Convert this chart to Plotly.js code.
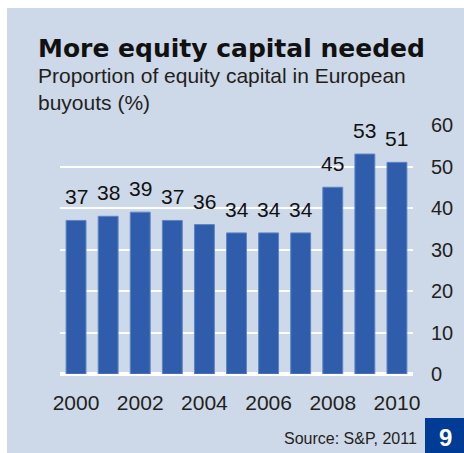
<!DOCTYPE html>
<html><head><meta charset="utf-8">
<script src="https://cdn.plot.ly/plotly-3.0.1.min.js"></script>
<style>html,body{margin:0;padding:0;background:#fff}#c{width:464px;height:453px}</style>
</head><body><div id="c"></div>
<script>
const years = [2000,2001,2002,2003,2004,2005,2006,2007,2008,2009,2010];
const equityShare = [37,38,39,37,36,34,34,34,45,53,51];
const xTickVals = [2000,2002,2004,2006,2008,2010];
const yTickVals = [0,10,20,30,40,50,60];

const L=60,R=51,T=125,B=79,W=464,H=453;
const pw=W-L-R, ph=H-T-B;
const px = v => (v-L)/pw;
const py = v => (H-B-v)/ph;

const trace = {
  type:'bar', x: years, y: equityShare,
  marker:{color:'#2f5dab', line:{color:'#5f84c4', width:1}},
  hoverinfo:'skip'
};
const valueLabels = years.map((yr,i)=>({
  x:yr, y:equityShare[i], xref:'x', yref:'y', text:String(equityShare[i]),
  xanchor:'center', yanchor:'bottom', yshift:10, showarrow:false,
  font:{family:'Liberation Sans, Arial, sans-serif', size:21, color:'#111'}
}));
const layout = {
  width:W, height:H, margin:{l:L,r:R,t:T,b:B},
  paper_bgcolor:'#cdd8e8', plot_bgcolor:'rgba(0,0,0,0)',
  showlegend:false, bargap:0.38,
  font:{family:'Liberation Sans, Arial, sans-serif', color:'#231f20'},
  xaxis:{range:[1999.5,2010.5], tickvals:xTickVals, ticktext:xTickVals.map(String),
    showgrid:false, zeroline:false, showline:false, ticks:'', tickfont:{size:21}, ticklabelstandoff:14, fixedrange:true},
  yaxis:{side:'right', range:[0,60], tickvals:yTickVals, showgrid:true, gridcolor:'#ffffff', gridwidth:2,
    zeroline:true, zerolinecolor:'#ffffff', zerolinewidth:4, showline:false, ticks:'',
    tickfont:{size:20}, ticklabelstandoff:17, fixedrange:true},
  shapes:[
    {type:'rect', xref:'paper', yref:'paper', x0:px(0), x1:px(W), y0:py(0), y1:py(8), fillcolor:'#ffffff', line:{width:0}, layer:'below'},
    {type:'rect', xref:'paper', yref:'paper', x0:px(0), x1:px(7), y0:py(0), y1:py(H), fillcolor:'#ffffff', line:{width:0}, layer:'below'},
    {type:'rect', xref:'paper', yref:'paper', x0:px(425), x1:px(W), y0:py(418), y1:py(H), fillcolor:'#003b95', line:{width:0}, layer:'above'}
  ],
  annotations:valueLabels.concat([
    {text:'<b>More equity capital needed</b>', xref:'paper', yref:'paper', x:px(36), y:py(32), xanchor:'left', yanchor:'top',
      showarrow:false, font:{family:'DejaVu Sans, sans-serif', size:25, color:'#111'}},
    {text:'Proportion of equity capital in European<br>buyouts (%)', xref:'paper', yref:'paper', x:px(36), y:py(62), xanchor:'left', yanchor:'top', align:'left',
      showarrow:false, font:{size:21, color:'#231f20'}},
    {text:'Source: S&P, 2011', xref:'paper', yref:'paper', x:px(419), y:py(438), xanchor:'right', yanchor:'middle',
      showarrow:false, font:{size:16, color:'#231f20'}},
    {text:'<b>9</b>', xref:'paper', yref:'paper', x:px(445), y:py(437), xanchor:'center', yanchor:'middle',
      showarrow:false, font:{size:24, color:'#ffffff'}}
  ])
};
Plotly.newPlot('c',[trace],layout,{displayModeBar:false,staticPlot:true});
</script></body></html>
